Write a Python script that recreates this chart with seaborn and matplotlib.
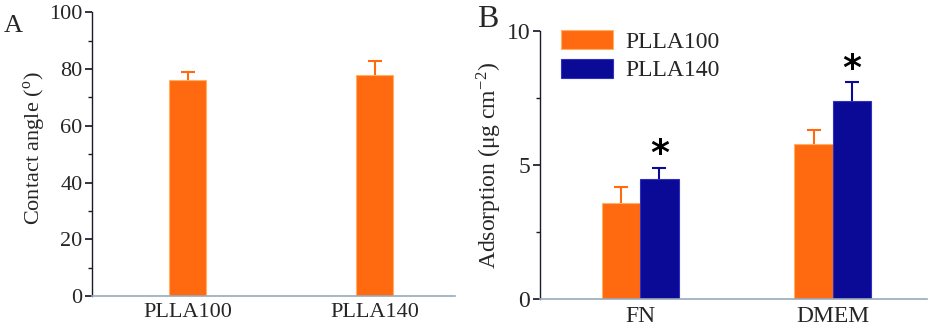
import numpy as np
import pandas as pd
import seaborn as sns
import matplotlib.pyplot as plt
from matplotlib.ticker import MultipleLocator

# Panel A: contact angle
samples = ["PLLA100", "PLLA140"]
angle = [76, 78]
angle_err = [3, 5]

# Panel B: protein adsorption
media = ["FN", "DMEM"]
ads_100 = [3.6, 5.8]
ads_100_err = [0.6, 0.5]
ads_140 = [4.5, 7.4]
ads_140_err = [0.4, 0.7]

orange = "#FF6A10"
blue = "#0A0A96"
orange_edge = "#FFB060"
blue_edge = "#3030C0"


def upper_errorbar(ax, x, y, err, color):
    # one-sided error bar: only the upper whisker and cap
    _, caps, _ = ax.errorbar(x, y, yerr=[np.zeros(len(y)), err], fmt="none",
                             ecolor=color, elinewidth=1.5, capsize=5,
                             capthick=1.5, zorder=0.5)
    caps[0].set_visible(False)


sns.set_theme(style="ticks")
plt.rcParams['font.family'] = ['Liberation Serif', 'DejaVu Serif']
plt.rcParams['mathtext.fontset'] = 'stix'

fig = plt.figure(figsize=(9.31, 3.32), dpi=100)
axA = fig.add_axes([0.099, 0.108, 0.39, 0.855])
axB = fig.add_axes([0.58, 0.099, 0.416, 0.807])

# ---- A ----
dfA = pd.DataFrame({"sample": samples, "angle": angle})
sns.barplot(data=dfA, x="sample", y="angle", color=orange, saturation=1,
            width=0.2, errorbar=None, ax=axA, edgecolor=orange_edge, linewidth=0.8)
xs = [p.get_x() + p.get_width() / 2 for p in axA.patches]
upper_errorbar(axA, xs, angle, angle_err, orange)
axA.set_ylim(0, 100)
axA.set_xlim(-0.51, 1.43)
axA.yaxis.set_major_locator(MultipleLocator(20))
axA.yaxis.set_minor_locator(MultipleLocator(10))
axA.set_xlabel("")
axA.set_ylabel("Contact angle ($^{\\mathregular{o}}$)", fontsize=16)
axA.yaxis.set_label_coords(-0.125, 0.52)
axA.tick_params(axis="both", labelsize=16)

# ---- B ----
dfB = pd.DataFrame({
    "medium": media * 2,
    "value": ads_100 + ads_140,
    "group": ["PLLA100"] * len(media) + ["PLLA140"] * len(media),
})
sns.barplot(data=dfB, x="medium", y="value", hue="group",
            palette=[orange, blue], saturation=1, width=0.4, errorbar=None,
            ax=axB, linewidth=0.8)
for cont, vals, errs, col, ec in zip(axB.containers, [ads_100, ads_140],
                                     [ads_100_err, ads_140_err], [orange, blue],
                                     [orange_edge, blue_edge]):
    cx = [b.get_x() + b.get_width() / 2 for b in cont]
    for b in cont:
        b.set_edgecolor(ec)
    upper_errorbar(axB, cx, vals, errs, col)
    if col == blue:
        for x, v, e in zip(cx, vals, errs):
            axB.text(x, v + e + 0.5, "*", ha="center", va="center",
                     fontsize=26, fontweight="bold", color="black",
                     family="DejaVu Sans")
axB.set_ylim(0, 10)
axB.set_xlim(-0.52, 1.49)
axB.yaxis.set_major_locator(MultipleLocator(5))
axB.yaxis.set_minor_locator(MultipleLocator(2.5))
axB.set_xlabel("")
axB.set_ylabel("Adsorption (\u03bcg cm$^{\\mathregular{-2}}$)", fontsize=17, labelpad=2)
axB.tick_params(axis="both", labelsize=17)
handles, labels = axB.get_legend_handles_labels()
for h, ec in zip(handles, [orange_edge, blue_edge]):
    h.set_edgecolor(ec)
axB.legend(handles, labels, loc="upper left", bbox_to_anchor=(0.0, 1.085),
           frameon=False, fontsize=17, handlelength=2.2, handleheight=0.9,
           handletextpad=0.5, labelspacing=0.25)

for ax in (axA, axB):
    sns.despine(ax=ax)
    ax.spines["left"].set_color("#1a1a2a")
    ax.spines["bottom"].set_color("#9aaabb")
    ax.spines["left"].set_linewidth(1.0)
    ax.spines["bottom"].set_linewidth(1.2)
    ax.tick_params(axis="x", length=0, pad=5)
    ax.tick_params(axis="y", which="major", length=5, pad=2,
                   color="#1a1a2a", direction="out")
    ax.tick_params(axis="y", which="minor", length=3, color="#1a1a2a",
                   direction="out")

fig.text(0.004, 0.904, "A", fontsize=19)
fig.text(0.512, 0.919, "B", fontsize=23)

fig.savefig("out.png", dpi=100)
